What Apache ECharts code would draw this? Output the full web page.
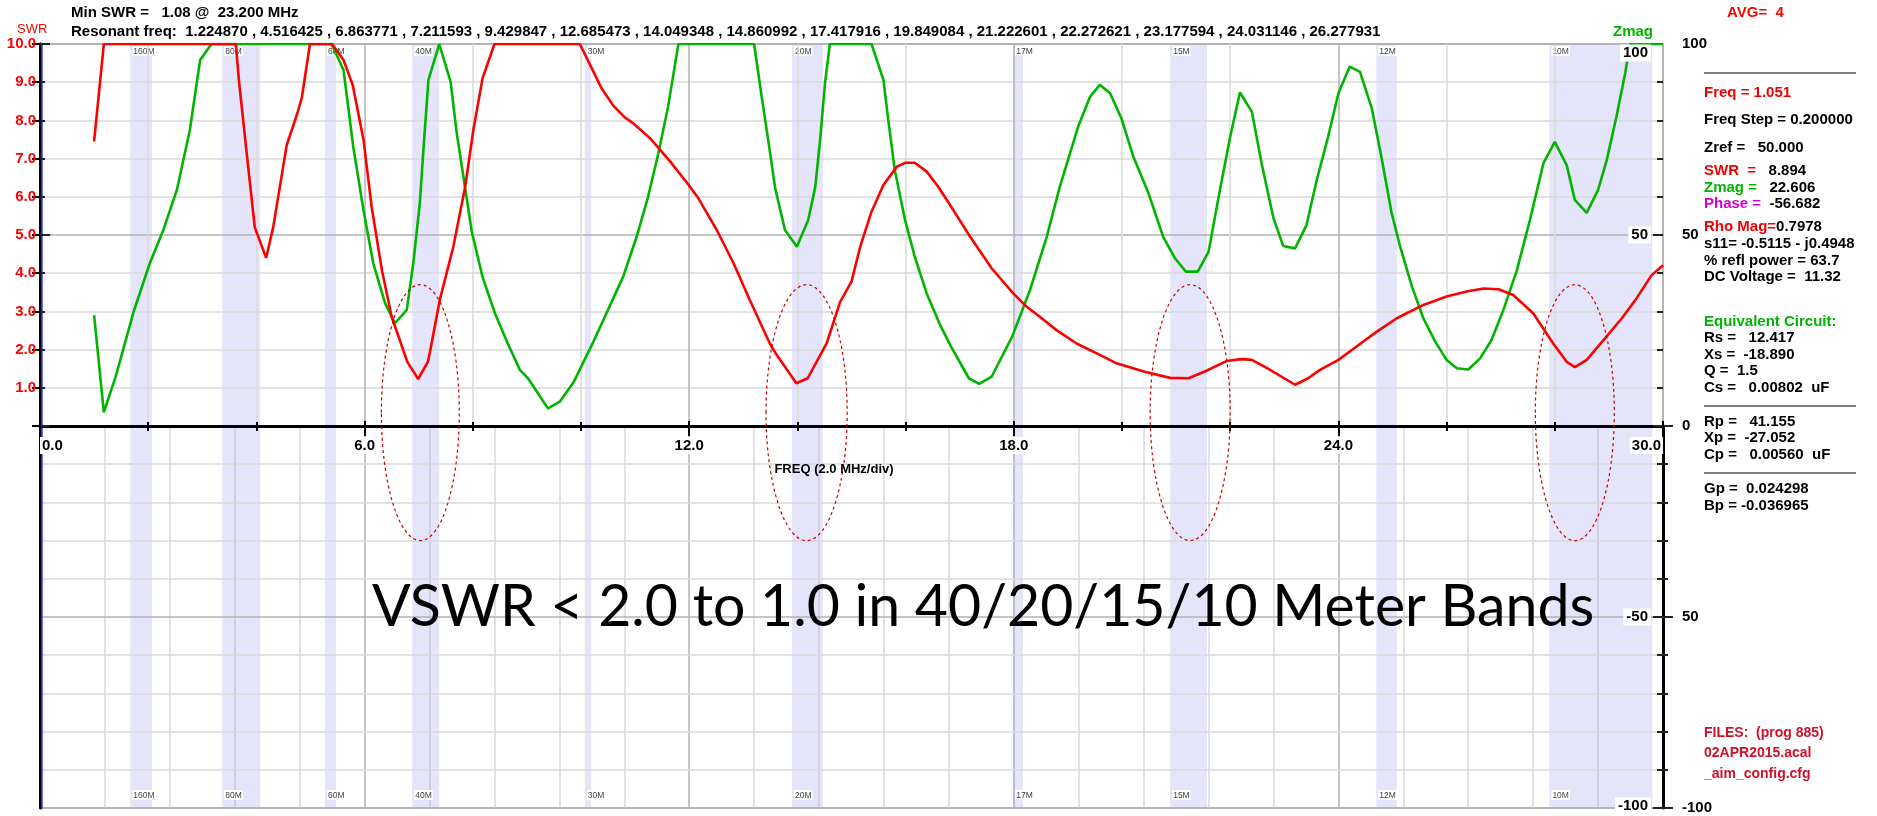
<!DOCTYPE html>
<html>
<head>
<meta charset="utf-8">
<script src="https://cdn.jsdelivr.net/npm/echarts@6/dist/echarts.min.js"></script>
<style>
html,body{margin:0;padding:0;background:#fff;}
#chart{width:1877px;height:816px;}
</style>
</head>
<body>
<div id="chart"></div>
<script>
// ---------------- DATA ----------------
const swrFreq = [1.0,1.18,3.62,3.68,3.82,3.97,4.18,4.31,4.56,4.76,4.84,4.99,5.4,5.61,5.78,5.98,6.13,6.32,6.5,6.79,6.99,7.17,7.21,7.39,7.64,7.86,8.01,8.18,8.4,9.98,10.38,10.6,10.81,10.97,11.28,11.65,11.98,12.17,12.51,12.82,13.12,13.49,13.6,13.98,14.19,14.54,14.79,15.0,15.16,15.37,15.59,15.84,15.99,16.17,16.39,16.6,16.82,17.19,17.59,17.99,18.24,18.48,18.79,19.16,19.59,19.9,20.42,20.89,21.23,21.55,21.93,22.21,22.4,22.69,23.2,23.44,23.66,24.0,24.21,24.71,25.08,25.57,26.0,26.37,26.68,26.96,27.23,27.6,27.97,28.22,28.37,28.59,28.9,29.24,29.51,29.79,30.0];
const swrVals = [7.45,10,10,9.0,7.15,5.2,4.4,5.2,7.35,8.2,8.6,10,10,9.58,8.93,7.49,5.74,4.08,2.86,1.68,1.23,1.68,1.95,3.3,4.69,6.27,7.75,9.1,10,10,8.84,8.38,8.08,7.92,7.53,6.92,6.33,5.96,5.13,4.26,3.30,2.16,1.9,1.12,1.25,2.16,3.25,3.78,4.69,5.61,6.31,6.79,6.89,6.89,6.66,6.27,5.79,4.96,4.13,3.47,3.12,2.86,2.51,2.16,1.86,1.64,1.42,1.26,1.25,1.44,1.70,1.75,1.73,1.51,1.08,1.25,1.47,1.73,1.95,2.47,2.82,3.17,3.39,3.52,3.6,3.58,3.43,2.95,2.16,1.68,1.54,1.73,2.25,2.82,3.34,3.95,4.21];

const zmagFreq = [1.0,1.18,1.4,1.73,2.03,2.28,2.53,2.77,2.96,3.17,5.39,5.61,5.7,5.79,5.98,6.16,6.38,6.56,6.78,6.9,7.02,7.1,7.18,7.38,7.59,7.7,7.84,7.98,8.18,8.41,8.63,8.87,9.02,9.39,9.61,9.87,10.23,10.5,10.78,11.03,11.24,11.43,11.61,11.8,13.2,13.34,13.46,13.59,13.77,13.99,14.2,14.33,14.42,14.51,14.6,15.37,15.59,15.68,15.8,15.99,16.17,16.39,16.64,16.84,17.17,17.36,17.59,17.97,18.3,18.61,18.85,19.19,19.41,19.59,19.78,19.99,20.21,20.49,20.76,20.98,21.18,21.4,21.6,21.81,22.0,22.18,22.4,22.58,22.8,22.98,23.2,23.41,23.6,23.81,24.0,24.21,24.4,24.62,24.8,24.98,25.14,25.36,25.57,25.79,26.0,26.19,26.4,26.62,26.83,27.05,27.3,27.54,27.79,28.0,28.22,28.37,28.59,28.8,28.96,29.14,29.3,29.39,30.0];
const zmagVals = [29,3.6,13,29.9,42.6,51.3,61.8,77.5,95.8,100,100,93.2,83.2,73.1,56.5,42.6,32.1,26.9,30.4,42.6,58.3,74.9,90.6,100,90.1,77,64,51,39,29.5,22.1,14.7,12.5,4.6,6.4,11.6,22.1,30.4,39.1,49.6,60,71.4,83.6,100,100,86.2,74.9,62.2,51.3,46.9,53.9,62.6,74.9,89.7,100,100,90.6,80.1,67,53.9,44.3,34.7,26.4,20.8,12.5,11,12.9,23.4,35.6,49.6,62.6,78.4,86.2,89.3,87.1,80.5,70.5,60.9,49.6,43.9,40.4,40.4,45.6,61.8,75.7,87.3,82.3,68.8,54.4,47.1,46.5,52.6,64.4,75.7,87.1,94.1,92.7,83,70,56,47,36.5,28.2,22.1,17.3,15.1,14.8,17.7,22.5,30.4,40.8,53.9,68.8,74.4,68.3,59.2,55.8,61.8,69.6,81,92.3,100,100];

const bandNames = ['160M','80M','60M','40M','30M','20M','17M','15M','12M','10M'];
const bandStart = [1.67,3.37,5.27,6.88,10.07,13.9,17.99,20.89,24.7,27.9];
const bandEnd   = [2.07,4.07,5.47,7.38,10.19,14.47,18.17,21.57,25.08,29.8];

const ellipseFreq = [7.03,14.17,21.26,28.37];
const ellipseHalfWidth = [0.72,0.75,0.74,0.73];
const ellipseTop = 37;      // right-axis units (upper grid)
const ellipseBottom = -30;  // right-axis units (lower grid)

const minSwr = '1.08';
const minSwrFreq = '23.200';
const resonantFreqs = ['1.224870','4.516425','6.863771','7.211593','9.429847','12.685473','14.049348','14.860992','17.417916','19.849084','21.222601','22.272621','23.177594','24.031146','26.277931'];
const avgValue = '4';

const panelLines = [
  ['Freq = 1.051', '', 'r'],
  ['Freq Step = 0.200000', '', 'k'],
  ['Zref =   50.000', '', 'k'],
  ['SWR  =', '   8.894', 'r'],
  ['Zmag =', '   22.606', 'g'],
  ['Phase =', '  -56.682', 'm'],
  ['Rho Mag=', '0.7978', 'r'],
  ['s11= -0.5115 - j0.4948', '', 'k'],
  ['% refl power = 63.7', '', 'k'],
  ['DC Voltage =  11.32', '', 'k'],
  ['Equivalent Circuit:', '', 'g'],
  ['Rs =   12.417', '', 'k'],
  ['Xs =  -18.890', '', 'k'],
  ['Q =  1.5', '', 'k'],
  ['Cs =   0.00802  uF', '', 'k'],
  ['Rp =   41.155', '', 'k'],
  ['Xp =  -27.052', '', 'k'],
  ['Cp =   0.00560  uF', '', 'k'],
  ['Gp =  0.024298', '', 'k'],
  ['Bp = -0.036965', '', 'k']
];
const fileLines = ['FILES:  (prog 885)', '02APR2015.acal', '_aim_config.cfg'];
const bigNote = 'VSWR < 2.0 to 1.0 in 40/20/15/10 Meter Bands';

// ---------------- STYLE / LAYOUT ----------------
const FONT = '"Liberation Sans", Arial, Helvetica, sans-serif';
const NARROW = '"Liberation Sans Narrow", "Liberation Sans", Arial, sans-serif';
const RED = '#ff0000', GREEN = '#00b400';
const MINOR = '#d9d9d9', MAJOR = '#b2b2b2';
const BAND = 'rgba(159,159,237,0.28)';

const chart = echarts.init(document.getElementById('chart'), null, {renderer: 'canvas'});

function bandArea(pos, off) {
  return {
    silent: true,
    itemStyle: {color: BAND},
    label: {show: true, position: pos, distance: 2, offset: off, fontSize: 8.5, fontFamily: NARROW,
            color: '#444', backgroundColor: '#fff', padding: [1, 1, 0, 1]},
    data: bandNames.map((n, i) => [{name: n, xAxis: bandStart[i]}, {xAxis: bandEnd[i]}])
  };
}
const splitX = {show: true, lineStyle: {color: MAJOR, width: 1.5}};
const minorSplit = {show: true, lineStyle: {color: MINOR, width: 1.5}};
const hidden = {axisLine: {show: false}, axisTick: {show: false}, axisLabel: {show: false}, splitLine: {show: false}};

const option = {
  animation: false,
  backgroundColor: '#fff',
  grid: [
    {left: 40, right: 214, top: 44, height: 382, show: true, borderColor: '#a8a8a8', borderWidth: 1.5},
    {left: 40, right: 214, top: 426, height: 382, show: true, borderColor: '#a8a8a8', borderWidth: 1.5}
  ],
  xAxis: [
    {type: 'value', gridIndex: 0, min: 0, max: 30, interval: 6, position: 'bottom', z: 3,
     axisLine: {lineStyle: {color: '#000', width: 3}},
     axisTick: {show: true, length: 10, lineStyle: {color: '#000', width: 2}},
     minorTick: {show: true, splitNumber: 3, length: 5, lineStyle: {color: '#000', width: 2}},
     axisLabel: {formatter: v => v.toFixed(1), fontFamily: FONT, fontWeight: 'bold', fontSize: 15, color: '#000',
                 backgroundColor: '#fff', padding: [1, 2], margin: 11, alignMinLabel: 'left', alignMaxLabel: 'right'},
     splitLine: splitX, minorSplitLine: minorSplit},
    {type: 'value', gridIndex: 0, min: 0, max: 30, interval: 6, position: 'bottom', z: 3,
     axisLine: {show: false}, axisLabel: {show: false}, splitLine: {show: false},
     axisTick: {show: true, inside: true, length: 5, lineStyle: {color: '#000', width: 2}},
     minorTick: {show: true, splitNumber: 3, length: 4, lineStyle: {color: '#000', width: 2}}},
    {type: 'value', gridIndex: 1, min: 0, max: 30, interval: 6, position: 'bottom',
     axisLine: {show: true, lineStyle: {color: '#a8a8a8', width: 1.5}}, axisTick: {show: false}, axisLabel: {show: false},
     splitLine: splitX, minorSplitLine: minorSplit}
  ],
  yAxis: [
    // 0: SWR (left, upper)
    {type: 'value', gridIndex: 0, position: 'left', min: 0, max: 10, interval: 1, offset: 1, z: 3,
     axisLine: {show: true, lineStyle: {color: '#000', width: 3}},
     axisTick: {show: true, length: 8, lineStyle: {color: '#000', width: 2}},
     axisLabel: {formatter: v => v > 0 ? v.toFixed(1) : '', color: RED, fontFamily: FONT, fontWeight: 'bold', fontSize: 15, margin: 3},
     splitLine: {show: false}},
    // 1: Zmag (right, upper)
    {type: 'value', gridIndex: 0, position: 'right', min: 0, max: 100, interval: 50, z: 3,
     axisLine: {show: true, lineStyle: {color: '#000', width: 3}},
     axisTick: {show: true, length: 10, lineStyle: {color: '#222', width: 2}},
     minorTick: {show: true, splitNumber: 5, length: 5, lineStyle: {color: '#222', width: 2}},
     axisLabel: {color: '#000', fontFamily: FONT, fontWeight: 'bold', fontSize: 15, margin: 19},
     splitLine: {show: true, lineStyle: {color: MAJOR, width: 1.5}}, minorSplitLine: minorSplit},
    // 2: inner ticks (upper right)
    Object.assign({type: 'value', gridIndex: 0, position: 'right', min: 0, max: 100, interval: 50, z: 3}, hidden,
     {axisTick: {show: true, inside: true, length: 10, lineStyle: {color: '#222', width: 2}},
      minorTick: {show: true, splitNumber: 5, length: 6, lineStyle: {color: '#222', width: 2}}}),
    // 3: blue edge (upper)
    Object.assign({type: 'value', gridIndex: 0, position: 'left', min: 0, max: 10, offset: -1.5, z: 3}, hidden,
     {axisLine: {show: true, lineStyle: {color: '#3a3aff', width: 1.5}}}),
    // 4: left black (lower)
    Object.assign({type: 'value', gridIndex: 1, position: 'left', min: -10, max: 0, offset: 1, z: 3}, hidden,
     {axisLine: {show: true, lineStyle: {color: '#000', width: 3}}}),
    // 5: blue edge (lower)
    Object.assign({type: 'value', gridIndex: 1, position: 'left', min: -10, max: 0, offset: -1.5, z: 3}, hidden,
     {axisLine: {show: true, lineStyle: {color: '#3a3aff', width: 1.5}}}),
    // 6: right (lower)
    {type: 'value', gridIndex: 1, position: 'right', min: -100, max: 0, interval: 50, z: 3,
     axisLine: {show: true, lineStyle: {color: '#000', width: 3}},
     axisTick: {show: true, length: 10, lineStyle: {color: '#222', width: 2}},
     minorTick: {show: true, splitNumber: 5, length: 5, lineStyle: {color: '#222', width: 2}},
     axisLabel: {formatter: v => v === 0 ? '' : (v === -50 ? '50' : String(v)), color: '#000', fontFamily: FONT, fontWeight: 'bold', fontSize: 15, margin: 19},
     splitLine: {show: true, lineStyle: {color: MAJOR, width: 1.5}}, minorSplitLine: minorSplit},
    // 7: inner ticks (lower right)
    Object.assign({type: 'value', gridIndex: 1, position: 'right', min: -100, max: 0, interval: 50, z: 3}, hidden,
     {axisTick: {show: true, inside: true, length: 10, lineStyle: {color: '#222', width: 2}},
      minorTick: {show: true, splitNumber: 5, length: 6, lineStyle: {color: '#222', width: 2}}})
  ],
  series: [
    {type: 'line', name: 'SWR', xAxisIndex: 0, yAxisIndex: 0, z: 6, symbol: 'none', showSymbol: false,
     data: swrFreq.map((f, i) => [f, swrVals[i]]),
     lineStyle: {color: RED, width: 2.6}, itemStyle: {color: RED},
     markArea: bandArea('insideTopLeft', [0, 0])},
    {type: 'line', name: 'Zmag', xAxisIndex: 0, yAxisIndex: 1, z: 5, symbol: 'none', showSymbol: false,
     data: zmagFreq.map((f, i) => [f, zmagVals[i]]),
     lineStyle: {color: GREEN, width: 2.6}, itemStyle: {color: GREEN}},
    {type: 'line', name: 'bands', xAxisIndex: 2, yAxisIndex: 4, data: [], symbol: 'none',
     markArea: bandArea('insideBottomLeft', [0, -6])}
  ]
};
chart.setOption(option);

// ---------------- ANNOTATIONS ----------------
function txt(text, x, y, extra) {
  return {type: 'text', x: x, y: y, z: 50, silent: true,
          style: Object.assign({text: text, font: 'bold 15px ' + FONT, fill: '#000',
                                align: 'left', verticalAlign: 'middle', textAlign: 'left', textVerticalAlign: 'middle'}, extra || {})};
}
const g = [];
g.push(txt('Min SWR =   ' + minSwr + ' @  ' + minSwrFreq + ' MHz', 71, 13));
g.push(txt('Resonant freq:  ' + resonantFreqs.join(' , '), 71, 32));
g.push(txt('SWR', 17, 29, {font: '13px ' + FONT, fill: RED}));
g.push(txt('Zmag', 1613, 32, {fill: GREEN}));
g.push(txt('AVG=  ' + avgValue, 1727, 13, {fill: RED}));
g.push(txt('FREQ (2.0 MHz/div)', 834, 469, {font: 'bold 13px ' + FONT, align: 'center', textAlign: 'center'}));

// right panel
const colors = {r: '#f00000', k: '#000', g: '#00b400', m: '#d400d4'};
const panelY = [93, 120, 148, 171, 188, 204, 227, 244, 261, 277, 322, 338, 355, 371, 388, 422, 438, 455, 489, 506];
panelLines.forEach((ln, i) => {
  if (ln[1]) {
    g.push(txt('{a|' + ln[0] + '}' + ln[1], 1704, panelY[i], {rich: {a: {fill: colors[ln[2]], font: 'bold 15px ' + FONT}}}));
  } else {
    g.push(txt(ln[0], 1704, panelY[i], {fill: colors[ln[2]]}));
  }
});
[73, 406, 473].forEach(y => g.push({type: 'line', z: 50, silent: true, shape: {x1: 1704, y1: y, x2: 1856, y2: y}, style: {stroke: '#555', lineWidth: 1.5}}));
const fileY = [733, 753, 774];
fileLines.forEach((s, i) => g.push(txt(s, 1704, fileY[i], {fill: '#d0102a', font: 'bold 14px ' + FONT})));

// inner right labels (positioned through the axes)
function py(axisIdx, v) { return chart.convertToPixel({yAxisIndex: axisIdx}, v); }
const inner = [[1, 100, '100', 9], [1, 50, '50', 0], [6, -50, '-50', 0], [6, -100, '-100', -2]];
inner.forEach(it => {
  g.push(txt(it[2], 1651, py(it[0], it[1]) + it[3], {align: 'right', textAlign: 'right', backgroundColor: '#fff', padding: [1, 3]}));
});

// ellipses
ellipseFreq.forEach((f, i) => {
  const cx = chart.convertToPixel({xAxisIndex: 0}, f);
  const rx = chart.convertToPixel({xAxisIndex: 0}, f + ellipseHalfWidth[i]) - cx;
  const top = py(1, ellipseTop);
  const bot = py(6, ellipseBottom);
  g.push({type: 'ellipse', z: 40, silent: true,
          shape: {cx: cx, cy: (top + bot) / 2, rx: rx, ry: (bot - top) / 2},
          style: {fill: 'none', stroke: '#c80000', lineWidth: 1.2, lineDash: [3, 3]}});
});

// big note, width fitted to the picture
const ctx = document.createElement('canvas').getContext('2d');
ctx.font = '60px Lato';
const w = ctx.measureText(bigNote).width;
const fs = 60 * 1222 / w;
g.push({type: 'text', x: 372, y: 608, z: 60, silent: true,
        style: {text: bigNote, font: fs.toFixed(1) + 'px Lato', fill: '#000', align: 'left', verticalAlign: 'middle', textAlign: 'left', textVerticalAlign: 'middle'}});

chart.setOption({graphic: g});
</script>
</body>
</html>
